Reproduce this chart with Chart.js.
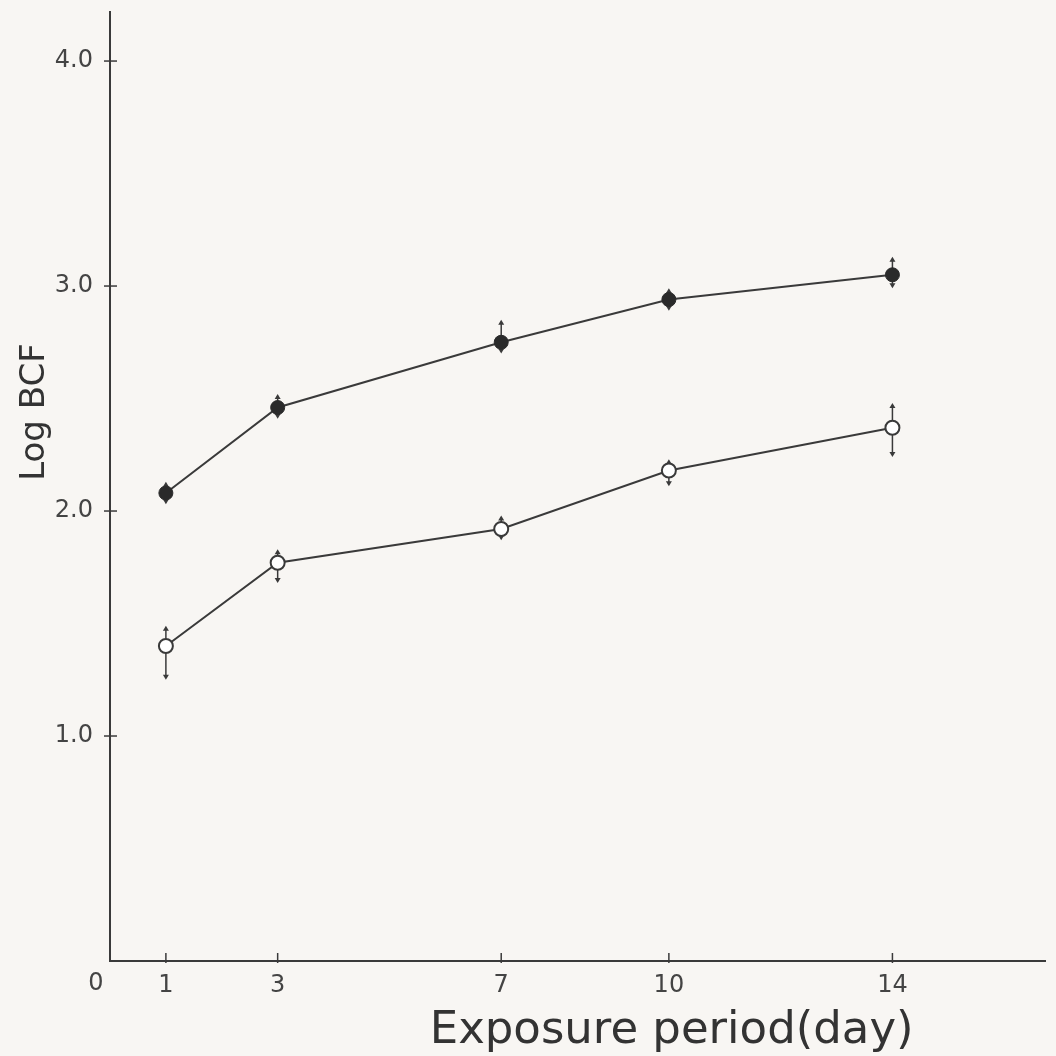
<!DOCTYPE html>
<html>
<head>
<meta charset="utf-8">
<script src="https://cdn.jsdelivr.net/npm/chart.js@4"></script>
<style>
  html, body { margin: 0; padding: 0; background: #f8f6f3; }
  #wrap { width: 1056px; height: 1056px; }
</style>
</head>
<body>
<div id="wrap"><canvas id="bcfChart" width="1056" height="1056"></canvas></div>
<script>
// exposure days and Log BCF readings
const days = [1, 3, 7, 10, 14];
const filledBCF = [2.08, 2.46, 2.75, 2.94, 3.05];
const filledUp = [0.05, 0.06, 0.10, 0.05, 0.08];
const filledDown = [0.05, 0.05, 0.05, 0.05, 0.06];
const openBCF = [1.40, 1.77, 1.92, 2.18, 2.37];
const openUp = [0.09, 0.06, 0.06, 0.05, 0.11];
const openDown = [0.15, 0.09, 0.05, 0.07, 0.13];
const yTicks = [1, 2, 3, 4];

const ink = '#3a3a3a';

// error bars with small arrow heads, tick marks crossing the axes, titles
const errorBarPlugin = {
    id: 'errorBars',
    beforeDatasetsDraw(chart) {
        const ctx = chart.ctx;
        const x = chart.scales.x;
        const y = chart.scales.y;
        ctx.save();
        ctx.strokeStyle = ink;
        ctx.fillStyle = ink;
        ctx.lineWidth = 1.5;
        chart.data.datasets.forEach(ds => {
            ds.data.forEach((pt, i) => {
                const px = x.getPixelForValue(pt.x);
                const top = y.getPixelForValue(pt.y + ds.errUp[i]);
                const bot = y.getPixelForValue(pt.y - ds.errDown[i]);
                ctx.beginPath();
                ctx.moveTo(px, top + 2);
                ctx.lineTo(px, bot - 2);
                ctx.stroke();
                // arrow heads
                ctx.beginPath();
                ctx.moveTo(px, top);
                ctx.lineTo(px - 3, top + 5);
                ctx.lineTo(px + 3, top + 5);
                ctx.closePath();
                ctx.fill();
                ctx.beginPath();
                ctx.moveTo(px, bot);
                ctx.lineTo(px - 3, bot - 5);
                ctx.lineTo(px + 3, bot - 5);
                ctx.closePath();
                ctx.fill();
            });
        });
        ctx.restore();
    },
    afterDraw(chart) {
        const ctx = chart.ctx;
        const x = chart.scales.x;
        const y = chart.scales.y;
        const area = chart.chartArea;
        ctx.save();
        ctx.strokeStyle = ink;
        ctx.lineWidth = 1.5;
        days.forEach(d => {
            const px = x.getPixelForValue(d);
            ctx.beginPath();
            ctx.moveTo(px, area.bottom - 8);
            ctx.lineTo(px, area.bottom + 2);
            ctx.stroke();
        });
        yTicks.forEach(v => {
            const py = y.getPixelForValue(v);
            ctx.beginPath();
            ctx.moveTo(area.left - 6, py);
            ctx.lineTo(area.left + 7, py);
            ctx.stroke();
        });
        // origin label sits a bit left of the corner
        ctx.fillStyle = '#444';
        ctx.font = '24px "DejaVu Sans"';
        ctx.textAlign = 'center';
        ctx.textBaseline = 'middle';
        ctx.fillText('0', x.getPixelForValue(0) - 14, area.bottom + 23);

        // axis titles
        ctx.fillStyle = '#333';
        ctx.font = '45px "DejaVu Sans"';
        ctx.textBaseline = 'alphabetic';
        ctx.fillText('Exposure period(day)', x.getPixelForValue(10.05), area.bottom + 82);

        ctx.save();
        ctx.translate(area.left - 75, y.getPixelForValue(2.44));
        ctx.rotate(-Math.PI / 2);
        ctx.font = '34px "DejaVu Sans"';
        ctx.textBaseline = 'middle';
        ctx.fillText('Log BCF', 0, 0);
        ctx.restore();
        ctx.restore();
    }
};

const ctx = document.getElementById('bcfChart').getContext('2d');

new Chart(ctx, {
    type: 'line',
    data: {
        datasets: [{
            label: 'filled',
            data: days.map((d, i) => ({ x: d, y: filledBCF[i] })),
            errUp: filledUp,
            errDown: filledDown,
            borderColor: ink,
            borderWidth: 2,
            backgroundColor: '#2a2a2a',
            pointRadius: 7,
            pointBorderColor: '#2a2a2a',
            pointBorderWidth: 1,
            tension: 0
        }, {
            label: 'open',
            data: days.map((d, i) => ({ x: d, y: openBCF[i] })),
            errUp: openUp,
            errDown: openDown,
            borderColor: ink,
            borderWidth: 2,
            backgroundColor: '#ffffff',
            pointRadius: 7,
            pointBorderColor: ink,
            pointBorderWidth: 2,
            tension: 0
        }]
    },
    options: {
        responsive: false,
        animation: false,
        layout: {
            padding: { top: 12, right: 11, left: 0, bottom: 0 }
        },
        plugins: {
            legend: { display: false },
            tooltip: { enabled: false }
        },
        scales: {
            x: {
                type: 'linear',
                min: 0,
                max: 16.73,
                afterFit: scale => {
                    scale.height = 95;
                    scale.paddingLeft = 0;
                    scale.paddingRight = 0;
                },
                afterBuildTicks: scale => {
                    scale.ticks = days.map(d => ({ value: d }));
                },
                grid: { display: false, drawTicks: false },
                border: { display: true, color: ink, width: 2 },
                ticks: {
                    padding: 10,
                    color: '#444',
                    font: { family: 'DejaVu Sans', size: 24 },
                    maxRotation: 0
                }
            },
            y: {
                min: 0,
                max: 4.218,
                afterFit: scale => {
                    scale.width = 110;
                    scale.paddingTop = 0;
                    scale.paddingBottom = 0;
                },
                afterBuildTicks: scale => {
                    scale.ticks = yTicks.map(v => ({ value: v }));
                },
                grid: { display: false, drawTicks: false },
                border: { display: true, color: ink, width: 2 },
                ticks: {
                    padding: 17,
                    color: '#444',
                    font: { family: 'DejaVu Sans', size: 24 },
                    callback: v => v.toFixed(1)
                }
            }
        }
    },
    plugins: [errorBarPlugin]
});
</script>
</body>
</html>
